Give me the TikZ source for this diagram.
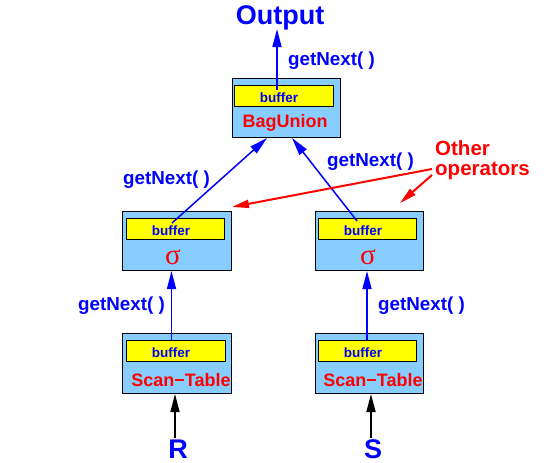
\documentclass[tikz,border=0pt]{standalone}
\usepackage{fontspec}
\setmainfont{Liberation Sans}
\newfontfamily\greekfont{Liberation Serif}
\usetikzlibrary{arrows.meta}
\definecolor{boxblue}{HTML}{87CEFF}
\definecolor{bufyellow}{HTML}{FFFF00}
\definecolor{tblue}{HTML}{0000FF}
\definecolor{tred}{HTML}{FF0000}
\begin{document}
\begin{tikzpicture}[x=1pt,y=-1pt,
  opbox/.style={draw=black, fill=boxblue, line width=1pt, inner sep=0pt},
  bufbox/.style={draw=black, fill=bufyellow, line width=1pt, inner sep=0pt},
  buftext/.style={inner sep=0pt, anchor=base, text=tblue, font=\bfseries\fontsize{13.5}{13.5}\selectfont},
  optext/.style={inner sep=0pt, anchor=base, text=tred, font=\bfseries\fontsize{18}{18}\selectfont},
  sigtext/.style={inner sep=0pt, anchor=base, text=tred, font=\greekfont\fontsize{29}{29}\selectfont},
  calltext/.style={inner sep=0pt, anchor=base west, text=tblue, font=\bfseries\fontsize{18.8}{18.8}\selectfont},
  bigtext/.style={inner sep=0pt, anchor=base, text=tblue, font=\bfseries\fontsize{27}{27}\selectfont},
  notetext/.style={inner sep=0pt, anchor=base west, text=tred, font=\bfseries\fontsize{20.5}{20.5}\selectfont},
  bluearrow/.style={draw=tblue, line width=1.5pt, -{Triangle[length=18pt,width=9pt]}},
  blackarrow/.style={draw=black, line width=1.5pt, -{Triangle[length=18pt,width=9pt]}},
  redarrow/.style={draw=tred, line width=2pt, -{Triangle[length=17pt,width=8pt]}}]
\useasboundingbox (0,0) rectangle (546,463);

% BagUnion
\node[opbox, minimum width=108pt, minimum height=59pt] (bu) at (286,107.5) {};
\node[bufbox, minimum width=99pt, minimum height=21pt] (bub) at (283.5,95.5) {};
\node[buftext] (bubt) at (279,102) {buffer};
\node[optext] (bun) at (285,127) {BagUnion};

% sigma left
\node[opbox, minimum width=109pt, minimum height=59pt] (sl) at (176.5,240.5) {};
\node[bufbox, minimum width=98pt, minimum height=21pt] (slb) at (175,228.5) {};
\node[buftext] (slbt) at (171,235) {buffer};
\node[sigtext] (sls) at (173,264) {σ};

% sigma right
\node[opbox, minimum width=108pt, minimum height=59pt] (sr) at (369,240.5) {};
\node[bufbox, minimum width=98pt, minimum height=21pt] (srb) at (367,228.5) {};
\node[buftext] (srbt) at (363,235) {buffer};
\node[sigtext] (srs) at (368,264) {σ};

% scan left
\node[opbox, minimum width=109pt, minimum height=60pt] (tl) at (176.5,363) {};
\node[bufbox, minimum width=99pt, minimum height=21pt] (tlb) at (175.5,350.5) {};
\node[buftext] (tlbt) at (171,357) {buffer};
\node[optext] (tln) at (181,386) {Scan−Table};

% scan right
\node[opbox, minimum width=108pt, minimum height=60pt] (tr) at (369,363) {};
\node[bufbox, minimum width=98pt, minimum height=21pt] (trb) at (367,350.5) {};
\node[buftext] (trbt) at (363,357) {buffer};
\node[optext] (trn) at (373,386) {Scan−Table};

% texts
\node[bigtext] (out) at (280,24) {Output};
\node[bigtext] (rr) at (178,458) {R};
\node[bigtext] (ss) at (373,458) {S};
\node[calltext] (g1) at (288,65) {getNext( )};
\node[calltext] (g2) at (123,184) {getNext( )};
\node[calltext] (g3) at (327,166) {getNext( )};
\node[calltext] (g4) at (78,310) {getNext( )};
\node[calltext] (g5) at (378,310) {getNext( )};
\node[notetext] (oth) at (435,155) {Other};
\node[notetext] (ops) at (435,175) {operators};

% connector ends
\coordinate (a1s) at (277,90);
\coordinate (a1e) at (277,29);
\coordinate (a2s) at (172,223);
\coordinate (a2e) at (267,138);
\coordinate (a3s) at (357,221);
\coordinate (a3e) at (292,138);
\coordinate (a4s) at (171.5,340);
\coordinate (a4e) at (171.5,271);
\coordinate (a5s) at (367,340);
\coordinate (a5e) at (367,271);
\coordinate (b1s) at (175,438);
\coordinate (b1e) at (175,394);
\coordinate (b2s) at (371,438);
\coordinate (b2e) at (371,394);
\coordinate (r1s) at (432,169);
\coordinate (r1e) at (232,207);
\coordinate (r2s) at (432,175);
\coordinate (r2e) at (400,203);

\draw[bluearrow] (a1s) -- (a1e);
\draw[bluearrow] (a2s) -- (a2e);
\draw[bluearrow] (a3s) -- (a3e);
\draw[bluearrow] (a4s) -- (a4e);
\draw[bluearrow] (a5s) -- (a5e);
\draw[blackarrow] (b1s) -- (b1e);
\draw[blackarrow] (b2s) -- (b2e);
\draw[redarrow] (r1s) -- (r1e);
\draw[redarrow] (r2s) -- (r2e);
\end{tikzpicture}
\end{document}
